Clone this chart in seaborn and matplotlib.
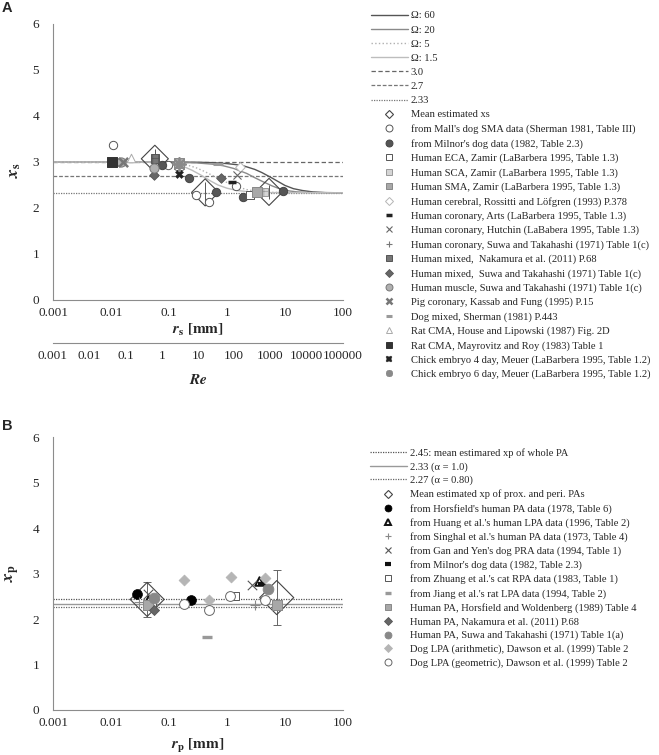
import numpy as np
import pandas as pd
import matplotlib
matplotlib.use("Agg")
import matplotlib.pyplot as plt
import seaborn as sns
from matplotlib.lines import Line2D

# ---------------- data: panel A ----------------
omega_labels = ["Ω: 60", "Ω: 20", "Ω: 5", "Ω: 1.5"]
om60_r = [0.001, 0.1, 0.3, 0.6, 1, 1.5, 2, 3, 4, 6, 8, 10, 14, 20, 30, 50, 100]
om60_x = [3.0, 3.0, 2.995, 2.985, 2.965, 2.94, 2.91, 2.84, 2.77, 2.65, 2.56, 2.49, 2.42, 2.38, 2.35, 2.335, 2.33]
om20_r = [0.001, 0.1, 0.3, 0.6, 0.85, 1.3, 2.2, 3, 4.2, 6, 8, 12, 16, 30, 100]
om20_x = [3.0, 3.0, 2.98, 2.95, 2.92, 2.86, 2.75, 2.66, 2.57, 2.48, 2.42, 2.37, 2.35, 2.335, 2.33]
om5_r = [0.001, 0.1, 0.15, 0.2, 0.3, 0.4, 0.6, 0.8, 1.1, 1.5, 2.2, 3, 6, 100]
om5_x = [3.0, 2.99, 2.97, 2.94, 2.87, 2.80, 2.69, 2.61, 2.53, 2.46, 2.40, 2.37, 2.34, 2.33]
om15_r = [0.001, 0.05, 0.08, 0.12, 0.18, 0.25, 0.35, 0.5, 0.7, 1.0, 1.5, 2.5, 5, 100]
om15_x = [3.0, 3.0, 2.99, 2.96, 2.90, 2.82, 2.72, 2.60, 2.50, 2.43, 2.38, 2.35, 2.335, 2.33]
hline_A_vals = [3.0, 2.7, 2.33]
hline_A_labels = ["3.0", "2.7", "2.33"]

meanA_r = [0.057, 0.42, 5.3]
meanA_x = [3.07, 2.34, 2.35]
meanA_err = [0.22, 0.22, 0.15]
mall_r = [0.011, 0.097, 0.29, 0.49, 1.45]
mall_x = [3.36, 2.93, 2.28, 2.14, 2.47]
milnorA_r = [0.075, 0.22, 0.64, 1.9, 9.3]
milnorA_x = [2.94, 2.65, 2.34, 2.25, 2.36]
eca_r = [2.5]
eca_x = [2.28]
sca_r = [4.3]
sca_x = [2.35]
sma_r = [0.15, 3.3]
sma_x = [2.97, 2.34]
cerebral_r = [1.7]
cerebral_x = [2.9]
arts_r = [1.2]
arts_x = [2.56]
hutchin_r = [1.5]
hutchin_x = [2.72]
suwacor_r = [0.15]
suwacor_x = [2.82]
nakamuraA_r = [0.057]
nakamuraA_x = [3.08]
suwamix_r = [0.056, 0.8]
suwamix_x = [2.71, 2.66]
muscle_r = [0.015, 0.056]
muscle_x = [3.0, 2.86]
pig_r = [0.016]
pig_x = [3.0]
dogmix_r = [0.7]
dogmix_x = [2.96]
rathouse_r = [0.022]
rathouse_x = [3.09]
ratmayro_r = [0.0103]
ratmayro_x = [3.0]
chick4_r = [0.15]
chick4_x = [2.75]
chick6_r = [0.15]
chick6_x = [2.95]

# ---------------- data: panel B ----------------
hline_B_vals = [2.45, 2.33, 2.27]
hline_B_labels = ["2.45: mean estimared xp of whole PA", "2.33 (α = 1.0)", "2.27 (α = 0.80)"]
meanB_r = [0.042, 7.2]
meanB_x = [2.43, 2.47]
meanB_err = [0.38, 0.60]
horsfield_r = [0.028, 0.24]
horsfield_x = [2.55, 2.42]
huang_r = [0.043, 3.5]
huang_x = [2.42, 2.84]
singhal_r = [0.030, 3.0]
singhal_x = [2.38, 2.31]
gan_r = [0.043, 2.7]
gan_x = [2.55, 2.74]
milnorB_r = [4.0]
milnorB_x = [2.77]
zhuang_r = [0.050, 1.35]
zhuang_x = [2.32, 2.5]
jiang_r = [0.46]
jiang_x = [1.61]
hw_r = [0.043, 7.3]
hw_x = [2.30, 2.30]
nakamuraB_r = [0.055]
nakamuraB_x = [2.2]
suwaB_r = [0.055, 5.0]
suwaB_x = [2.47, 2.66]
dogarith_r = [0.18, 0.49, 1.15, 4.5]
dogarith_x = [2.86, 2.42, 2.93, 2.9]
doggeom_r = [0.18, 0.49, 1.12, 4.6]
doggeom_x = [2.32, 2.2, 2.5, 2.41]

xticks_A = ["0.001", "0.01", "0.1", "1", "10", "100"]
xticks_Re = ["0.001", "0.01", "0.1", "1", "10", "100", "1000", "10000", "100000"]
yticks = [0, 1, 2, 3, 4, 5, 6]

# ---------------- style ----------------
sns.set_style("white")
plt.rcParams["font.family"] = ["Liberation Serif", "DejaVu Serif"]
plt.rcParams["mathtext.fontset"] = "stix"
plt.rcParams["hatch.linewidth"] = 0.5

W, H = 659, 755
fig = plt.figure(figsize=(W / 100, H / 100), dpi=100)

# check bold-italic math support
BI = r"\mathbfit"
try:
    import matplotlib.mathtext as _mt
    _mt.MathTextParser("path").parse(r"$\mathbfit{x}$", 72)
except Exception:
    BI = r"\mathit"


def fx(px):
    return px / W


def fy(py):
    return 1 - py / H


L, R = 53, 343
axA = fig.add_axes([fx(L), fy(300), fx(R - L), (300 - 24) / H])
axRe = fig.add_axes([fx(L), fy(343), fx(R - L), 0.0001])
axB = fig.add_axes([fx(L), fy(710), fx(R - L), (710 - 437) / H])

SP = "#8c8c8c"
TICK_FS = 9.5
LEG_FS = 7.6


def style_axes(ax, labels):
    ax.set_xscale("log")
    ax.set_xlim(float(labels[0]), float(labels[-1]))
    ax.set_xticks([float(t) for t in labels])
    ax.set_xticklabels(labels, fontsize=TICK_FS)
    for s in ["top", "right"]:
        ax.spines[s].set_visible(False)
    for s in ["left", "bottom"]:
        ax.spines[s].set_color(SP)
        ax.spines[s].set_linewidth(0.8)
    ax.tick_params(axis="x", which="major", direction="in", length=3.5, width=0.7, color=SP, pad=5)
    ax.tick_params(axis="x", which="minor", direction="in", length=2, width=0.6, color=SP)


def setup_main(ax):
    style_axes(ax, xticks_A)
    ax.set_ylim(0, 6)
    ax.set_yticks(yticks)
    ax.set_yticklabels([str(v) for v in yticks], fontsize=TICK_FS)
    ax.tick_params(axis="y", which="major", direction="out", length=4, width=0.7, color=SP, pad=6)


def hline(ax, val, color, ls, lw, labels):
    xs = [float(labels[0]), float(labels[-1])]
    sns.lineplot(x=xs, y=[val, val], ax=ax, color=color, linestyle=ls, linewidth=lw, zorder=1)


def curve(ax, r, x, color, ls, lw):
    sns.lineplot(x=r, y=x, ax=ax, color=color, linestyle=ls, linewidth=lw, sort=False,
                 estimator=None, zorder=2)


def scat(ax, r, x, st, z=4):
    df = pd.DataFrame({"r": r, "x": x})
    kw = dict(data=df, x="r", y="x", ax=ax, marker=st["m"], s=st["s"], legend=False,
              zorder=z, linewidth=st["lw"])
    if st["filled"]:
        kw.update(color=st["fc"], edgecolor=st["ec"])
    else:
        kw.update(color=st["ec"])
    if st.get("hatch"):
        kw["hatch"] = st["hatch"]
    sns.scatterplot(**kw)


def handle(st):
    if st["filled"]:
        return Line2D([], [], ls="none", marker=st["m"], markersize=st.get("ms", 5),
                      markerfacecolor=st["fc"], markeredgecolor=st["ec"], markeredgewidth=st["lw"])
    return Line2D([], [], ls="none", marker=st["m"], markersize=st.get("ms", 5),
                  color=st["ec"], markeredgewidth=st["lw"])


def S(m, s, fc, ec, lw, filled=True, ms=5, hatch=None):
    return dict(m=m, s=s, fc=fc, ec=ec, lw=lw, filled=filled, ms=ms, hatch=hatch)


# ---------------- panel A ----------------
setup_main(axA)
om_styles = [("#555555", "-", 1.0), ("#8a8a8a", "-", 1.0), ("#b0b0b0", ":", 1.0), ("#bdbdbd", "-", 1.0)]
for (r, x), (c, ls, lw) in zip([(om60_r, om60_x), (om20_r, om20_x), (om5_r, om5_x), (om15_r, om15_x)], om_styles):
    curve(axA, r, x, c, ls, lw)
hA_styles = [("#666666", (0, (3.5, 2)), 0.9), ("#777777", (0, (3, 1.5)), 0.9), ("#777777", (0, (1, 1)), 0.9)]
for v, (c, ls, lw) in zip(hline_A_vals, hA_styles):
    hline(axA, v, c, ls, lw, xticks_A)

mean_st = S("D", 190, "none", "#444444", 0.8, ms=4.5)
A_series = [
    ("Mean estimated xs", None, None, mean_st),
    ("from Mall's dog SMA data (Sherman 1981, Table III)", mall_r, mall_x, S("o", 36, "white", "#555555", 0.7)),
    ("from Milnor's dog data (1982, Table 2.3)", milnorA_r, milnorA_x, S("o", 36, "#555555", "#444444", 0.7)),
    ("Human ECA, Zamir (LaBarbera 1995, Table 1.3)", eca_r, eca_x, S("s", 30, "white", "#555555", 0.7)),
    ("Human SCA, Zamir (LaBarbera 1995, Table 1.3)", sca_r, sca_x, S("s", 34, "#d5d5d5", "#999999", 0.7, hatch="+++")),
    ("Human SMA, Zamir (LaBarbera 1995, Table 1.3)", sma_r, sma_x, S("s", 44, "#a8a8a8", "#888888", 0.7)),
    ("Human cerebral, Rossitti and Löfgren (1993) P.378", cerebral_r, cerebral_x, S("D", 24, "white", "#b5b5b5", 0.7, ms=4)),
    ("Human coronary, Arts (LaBarbera 1995, Table 1.3)", arts_r, arts_x, S("_", 30, "k", "#222222", 2.5, filled=False, ms=4)),
    ("Human coronary, Hutchin (LaBabera 1995, Table 1.3)", hutchin_r, hutchin_x, S("x", 34, "k", "#666666", 0.8, filled=False)),
    ("Human coronary, Suwa and Takahashi (1971) Table 1(c)", suwacor_r, suwacor_x, S("+", 38, "k", "#777777", 0.8, filled=False)),
    ("Human mixed,  Nakamura et al. (2011) P.68", nakamuraA_r, nakamuraA_x, S("s", 38, "#777777", "#555555", 0.7, hatch="+++")),
    ("Human mixed,  Suwa and Takahashi (1971) Table 1(c)", suwamix_r, suwamix_x, S("D", 24, "#666666", "#555555", 0.6, ms=4)),
    ("Human muscle, Suwa and Takahashi (1971) Table 1(c)", muscle_r, muscle_x, S("o", 44, "#b0b0b0", "#777777", 0.7)),
    ("Pig coronary, Kassab and Fung (1995) P.15", pig_r, pig_x, S("x", 44, "k", "#777777", 1.8, filled=False)),
    ("Dog mixed, Sherman (1981) P.443", dogmix_r, dogmix_x, S("_", 44, "k", "#9a9a9a", 2.2, filled=False)),
    ("Rat CMA, House and Lipowski (1987) Fig. 2D", rathouse_r, rathouse_x, S("^", 38, "white", "#aaaaaa", 0.7)),
    ("Rat CMA, Mayrovitz and Roy (1983) Table 1", ratmayro_r, ratmayro_x, S("s", 44, "#333333", "#333333", 0.7)),
    ("Chick embryo 4 day, Meuer (LaBarbera 1995, Table 1.2)", chick4_r, chick4_x, S("X", 34, "#222222", "#222222", 0.3)),
    ("Chick embryo 6 day, Meuer (LaBarbera 1995, Table 1.2)", chick6_r, chick6_x, S((8, 2, 0), 90, "k", "#8a8a8a", 1.3, filled=False)),
]
axA.errorbar(meanA_r, meanA_x, yerr=meanA_err, fmt="none", ecolor="#555555", elinewidth=0.7, capsize=0, zorder=3)
scat(axA, meanA_r, meanA_x, mean_st, z=3)
for lab, r, x, st in A_series[1:]:
    scat(axA, r, x, st)
axA.set_xlabel("")
axA.set_ylabel("")

# Re axis
style_axes(axRe, xticks_Re)
axRe.spines["left"].set_visible(False)
axRe.set_yticks([])
axRe.patch.set_alpha(0)

hA = [Line2D([], [], color=c, ls=ls, lw=lw) for (c, ls, lw) in om_styles]
hA += [Line2D([], [], color=c, ls=ls, lw=lw) for (c, ls, lw) in hA_styles]
hA += [handle(st) for _, _, _, st in A_series]
labA = omega_labels + hline_A_labels + [s[0] for s in A_series]
fig.legend(hA, labA, loc="upper left", bbox_to_anchor=(fx(371), fy(11)), frameon=False,
           fontsize=LEG_FS, handlelength=3.5, handletextpad=0.25, labelspacing=0.45,
           borderpad=0, borderaxespad=0)

# ---------------- panel B ----------------
setup_main(axB)
hB_styles = [("#555555", (0, (1, 1)), 0.9), ("#999999", "-", 1.0), ("#666666", (0, (1, 1)), 0.9)]
for v, (c, ls, lw) in zip(hline_B_vals, hB_styles):
    hline(axB, v, c, ls, lw, xticks_A)

meanB_st = S("D", 300, "none", "#444444", 0.8, ms=4.5)
B_series = [
    ("Mean estimated xp of prox. and peri. PAs", None, None, meanB_st),
    ("from Horsfield's human PA data (1978, Table 6)", horsfield_r, horsfield_x, S("o", 50, "black", "black", 0.5)),
    ("from Huang et al.'s human LPA data (1996, Table 2)", huang_r, huang_x, S("^", 38, "white", "#111111", 1.4)),
    ("from Singhal et al.'s human PA data (1973, Table 4)", singhal_r, singhal_x, S("+", 42, "k", "#888888", 0.8, filled=False)),
    ("from Gan and Yen's dog PRA data (1994, Table 1)", gan_r, gan_x, S("x", 46, "k", "#555555", 0.8, filled=False)),
    ("from Milnor's dog data (1982, Table 2.3)", milnorB_r, milnorB_x, S("_", 26, "k", "#111111", 3.0, filled=False, ms=4)),
    ("from Zhuang et al.'s cat RPA data (1983, Table 1)", zhuang_r, zhuang_x, S("s", 38, "white", "#555555", 0.7)),
    ("from Jiang et al.'s rat LPA data (1994, Table 2)", jiang_r, jiang_x, S("_", 42, "k", "#999999", 2.4, filled=False)),
    ("Human PA, Horsfield and Woldenberg (1989) Table 4", hw_r, hw_x, S("s", 46, "#a8a8a8", "#888888", 0.7)),
    ("Human PA, Nakamura et al. (2011) P.68", nakamuraB_r, nakamuraB_x, S("D", 26, "#666666", "#555555", 0.6, ms=4)),
    ("Human PA, Suwa and Takahashi (1971) Table 1(a)", suwaB_r, suwaB_x, S("o", 60, "#888888", "#888888", 0.6)),
    ("Dog LPA (arithmetic), Dawson et al. (1999) Table 2", dogarith_r, dogarith_x, S("D", 30, "#b5b5b5", "#b5b5b5", 0.6, ms=4)),
    ("Dog LPA (geometric), Dawson et al. (1999) Table 2", doggeom_r, doggeom_x, S("o", 50, "white", "#666666", 0.7)),
]
axB.errorbar(meanB_r, meanB_x, yerr=meanB_err, fmt="none", ecolor="#666666", elinewidth=0.7,
             capsize=3, capthick=0.7, zorder=3)
scat(axB, meanB_r, meanB_x, meanB_st, z=3)
for lab, r, x, st in B_series[1:]:
    scat(axB, r, x, st)
axB.set_xlabel("")
axB.set_ylabel("")

hB = [Line2D([], [], color=c, ls=ls, lw=lw) for (c, ls, lw) in hB_styles]
hB += [handle(st) for _, _, _, st in B_series]
labB = hline_B_labels + [s[0] for s in B_series]
fig.legend(hB, labB, loc="upper left", bbox_to_anchor=(fx(370), fy(448)), frameon=False,
           fontsize=LEG_FS, handlelength=3.5, handletextpad=0.25, labelspacing=0.40,
           borderpad=0, borderaxespad=0)

# ---------------- texts ----------------
fig.text(fx(2), fy(8), "A", fontsize=10.5, fontweight="bold", family="Liberation Sans", va="center", ha="left")
fig.text(fx(2), fy(426), "B", fontsize=10.5, fontweight="bold", family="Liberation Sans", va="center", ha="left")
fig.text(fx(15), fy(170), "$" + BI + r"{x}_{\mathbf{s}}$", fontsize=12.5, rotation=90, va="center", ha="center")
fig.text(fx(13), fy(573), "$" + BI + r"{x}_{\mathbf{p}}$", fontsize=12.5, rotation=90, va="center", ha="center")
fig.text(fx(198), fy(330), "$" + BI + r"{r}_{\mathbf{s}}\ \mathbf{[mm]}$", fontsize=11, va="center", ha="center")
fig.text(fx(198), fy(380), "$" + BI + r"{Re}$", fontsize=11, va="center", ha="center")
fig.text(fx(198), fy(746), "$" + BI + r"{r}_{\mathbf{p}}\ \mathbf{[mm]}$", fontsize=11, va="center", ha="center")

fig.savefig("out.png", dpi=100)
